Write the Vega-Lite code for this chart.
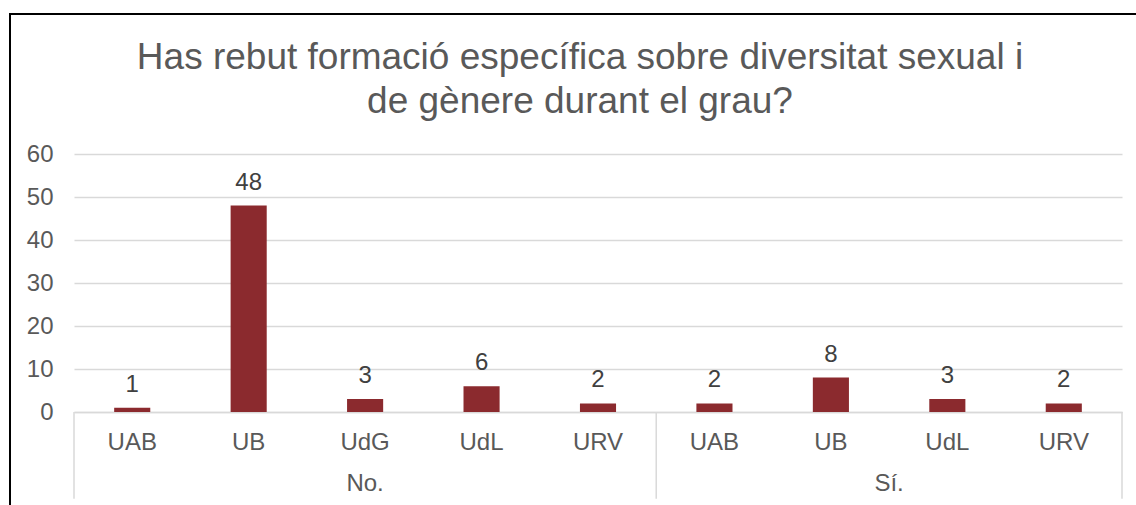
{
  "$schema": "https://vega.github.io/schema/vega-lite/v6.json",
  "autosize": "none",
  "width": 1128,
  "height": 493,
  "padding": {"left": 10, "top": 14, "right": 0, "bottom": 0},
  "background": "white",
  "config": {
    "font": "Liberation Sans",
    "view": {"stroke": "black", "strokeWidth": 2},
    "axis": {"labelFont": "Liberation Sans", "labelColor": "#595959", "labelFontSize": 24, "titleFont": "Liberation Sans"}
  },
  "title": {
    "text": ["Has rebut formació específica sobre diversitat sexual i", "de gènere durant el grau?"],
    "font": "Liberation Sans",
    "fontSize": 37,
    "fontWeight": "normal",
    "color": "#595959",
    "lineHeight": 44,
    "anchor": "middle",
    "frame": "group",
    "baseline": "top",
    "offset": -107,
    "dx": 6
  },
  "data": {
    "values": [
      {"key": "No.|UAB", "group": "No.", "uni": "UAB", "n": 1},
      {"key": "No.|UB", "group": "No.", "uni": "UB", "n": 48},
      {"key": "No.|UdG", "group": "No.", "uni": "UdG", "n": 3},
      {"key": "No.|UdL", "group": "No.", "uni": "UdL", "n": 6},
      {"key": "No.|URV", "group": "No.", "uni": "URV", "n": 2},
      {"key": "Sí.|UAB", "group": "Sí.", "uni": "UAB", "n": 2},
      {"key": "Sí.|UB", "group": "Sí.", "uni": "UB", "n": 8},
      {"key": "Sí.|UdL", "group": "Sí.", "uni": "UdL", "n": 3},
      {"key": "Sí.|URV", "group": "Sí.", "uni": "URV", "n": 2}
    ]
  },
  "encoding": {
    "x": {
      "field": "key",
      "type": "nominal",
      "sort": null,
      "scale": {"type": "band", "range": [64, 1112], "paddingInner": 0, "paddingOuter": 0},
      "axis": {
        "title": null,
        "offset": -95,
        "domainColor": "#D9D9D9",
        "domainWidth": 1.5,
        "ticks": false,
        "tickSize": 0,
        "labelPadding": 18,
        "labelAngle": 0,
        "labelExpr": "split(datum.value, '|')[1]"
      }
    }
  },
  "layer": [
    {
      "mark": {"type": "bar", "width": {"band": 0.31}, "color": "#8B2A2E"},
      "encoding": {
        "y": {
          "field": "n",
          "type": "quantitative",
          "scale": {"domain": [0, 60], "range": [398, 140], "nice": false},
          "axis": {
            "title": null,
            "offset": -64,
            "domain": false,
            "ticks": false,
            "tickSize": 0,
            "labelPadding": 21,
            "values": [0, 10, 20, 30, 40, 50, 60],
            "grid": true,
            "gridColor": "#D9D9D9",
            "gridWidth": 1.5
          }
        }
      }
    },
    {
      "mark": {"type": "text", "baseline": "alphabetic", "dy": -16, "fontSize": 24, "color": "#404040", "font": "Liberation Sans"},
      "encoding": {
        "y": {"field": "n", "type": "quantitative"},
        "text": {"field": "n", "type": "quantitative"}
      }
    },
    {
      "data": {"values": [{"key": "No.|UAB"}, {"key": "Sí.|UAB"}]},
      "mark": {"type": "rule", "color": "#D9D9D9", "strokeWidth": 1.5},
      "encoding": {
        "x": {"field": "key", "type": "nominal", "bandPosition": 0},
        "y": {"datum": 0},
        "y2": {"datum": -20.2}
      }
    },
    {
      "data": {"values": [{"key": "Sí.|URV"}]},
      "mark": {"type": "rule", "color": "#D9D9D9", "strokeWidth": 1.5},
      "encoding": {
        "x": {"field": "key", "type": "nominal", "bandPosition": 1},
        "y": {"datum": 0},
        "y2": {"datum": -20.2}
      }
    },
    {
      "data": {"values": [{"key": "No.|UdG", "label": "No."}]},
      "mark": {"type": "text", "baseline": "middle", "fontSize": 24, "color": "#595959", "font": "Liberation Sans"},
      "encoding": {
        "x": {"field": "key", "type": "nominal", "bandPosition": 0.5},
        "y": {"datum": -16.8},
        "text": {"field": "label"}
      }
    },
    {
      "data": {"values": [{"key": "Sí.|UdL", "label": "Sí."}]},
      "mark": {"type": "text", "baseline": "middle", "fontSize": 24, "color": "#595959", "font": "Liberation Sans"},
      "encoding": {
        "x": {"field": "key", "type": "nominal", "bandPosition": 0},
        "y": {"datum": -16.8},
        "text": {"field": "label"}
      }
    }
  ]
}
